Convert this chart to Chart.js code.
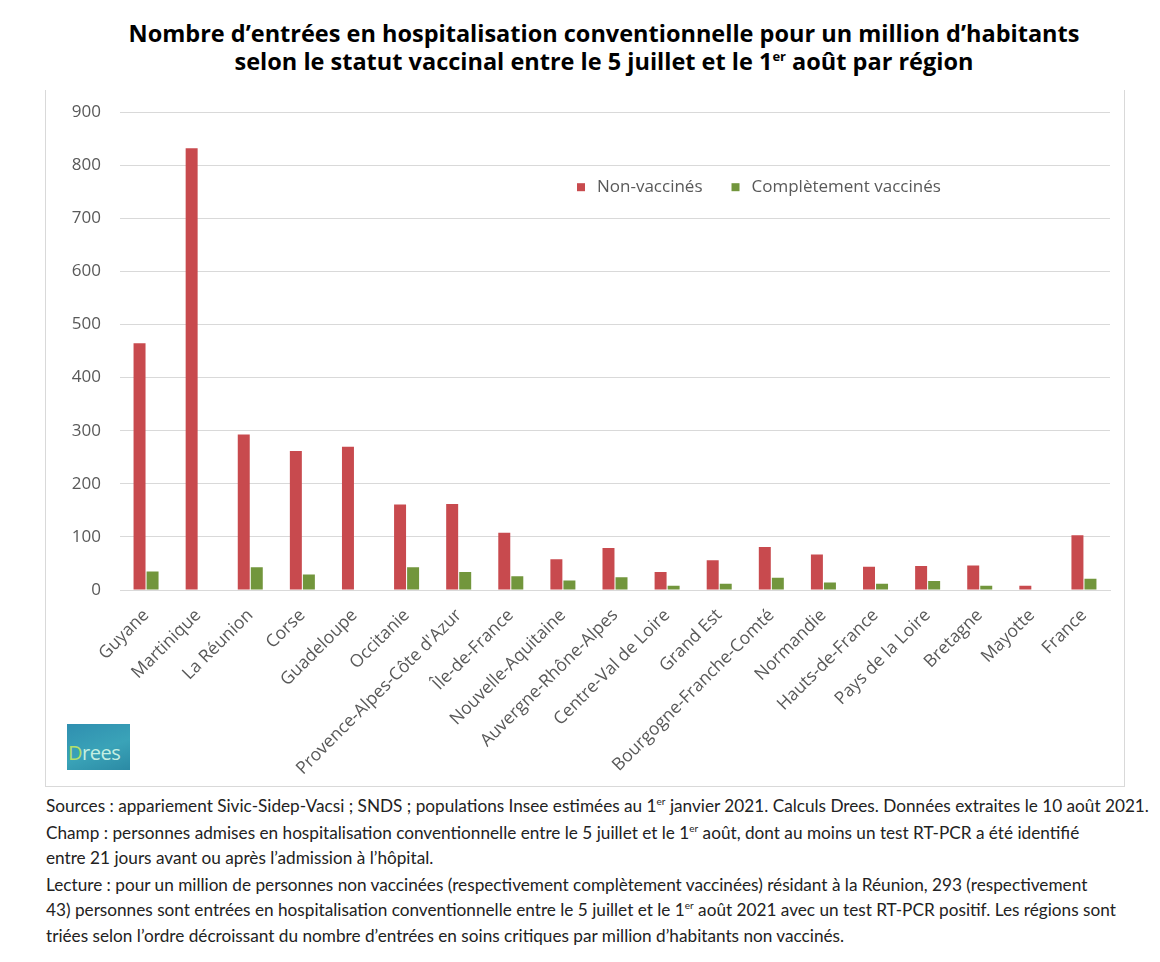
<!DOCTYPE html>
<html>
<head>
<meta charset="utf-8">
<script src="https://cdn.jsdelivr.net/npm/chart.js@4"></script>
<style>
  html, body { margin: 0; padding: 0; background: #fff; }
  body { width: 1160px; height: 962px; position: relative; overflow: hidden; }
  #title {
    position: absolute; left: 0; top: 19px; width: 1208px;
    text-align: center; font-family: "Open Sans", sans-serif; font-weight: bold;
    font-size: 23.5px; line-height: 28px; color: #000; white-space: nowrap;
  }
  #title sup { font-size: 13px; vertical-align: 9px; line-height: 0; }
  #box {
    position: absolute; left: 45px; top: 90px; width: 1080px; height: 697px;
    border: 1px solid #d9d9d9; border-top: none; box-sizing: border-box;
  }
  #chart { position: absolute; left: 0; top: -7px; }
  #logo {
    position: absolute; left: 67px; top: 724px; width: 63px; height: 46px;
    background: linear-gradient(160deg, #2f8fb0 0%, #3aa3b8 55%, #2b8aa4 100%);
    font-family: "Open Sans", sans-serif; font-size: 20px; color: #c5efe2;
    box-sizing: border-box; padding: 17px 0 0 1px; line-height: 24px; letter-spacing: -0.5px;
  }
  #logo b { color: #b5e06a; font-weight: normal; }
  #notes {
    position: absolute; left: 46px; top: 793px; width: 1140px; white-space: nowrap;
    font-family: Lato, sans-serif; font-size: 17.2px; color: #222; line-height: 25.6px;
  }
  #notes p { margin: 0 0 1px 0; }
  #notes sup { font-size: 10px; vertical-align: 7px; line-height: 0; }
</style>
</head>
<body>
<div id="title">Nombre d’entrées en hospitalisation conventionnelle pour un million d’habitants<br>selon le statut vaccinal entre le 5 juillet et le 1<sup>er</sup> août par région</div>
<div id="box"><canvas id="chart" width="1078" height="703"></canvas></div>
<div id="logo"><b>D</b>rees</div>
<div id="notes">
  <p>Sources : appariement Sivic-Sidep-Vacsi ; SNDS ; populations Insee estimées au 1<sup>er</sup> janvier 2021. Calculs Drees. Données extraites le 10 août 2021.</p>
  <p>Champ : personnes admises en hospitalisation conventionnelle entre le 5 juillet et le 1<sup>er</sup> août, dont au moins un test RT-PCR a été identifié<br>entre 21 jours avant ou après l’admission à l’hôpital.</p>
  <p>Lecture : pour un million de personnes non vaccinées (respectivement complètement vaccinées) résidant à la Réunion, 293 (respectivement<br>43) personnes sont entrées en hospitalisation conventionnelle entre le 5 juillet et le 1<sup>er</sup> août 2021 avec un test RT-PCR positif. Les régions sont<br>triées selon l’ordre décroissant du nombre d’entrées en soins critiques par million d’habitants non vaccinés.</p>
</div>
<script>
// Data
const regions = ['Guyane', 'Martinique', 'La Réunion', 'Corse', 'Guadeloupe', 'Occitanie',
  "Provence-Alpes-Côte d'Azur", 'Île-de-France', 'Nouvelle-Aquitaine', 'Auvergne-Rhône-Alpes',
  'Centre-Val de Loire', 'Grand Est', 'Bourgogne-Franche-Comté', 'Normandie', 'Hauts-de-France',
  'Pays de la Loire', 'Bretagne', 'Mayotte', 'France'];
const nonVaccines = [465, 832, 293, 262, 270, 161, 162, 108, 58, 79, 34, 56, 81, 67, 44, 45, 46, 8, 103];
const vaccines = [35, 0, 43, 29, 0, 43, 34, 26, 18, 24, 8, 12, 23, 14, 12, 17, 8, 0, 21];
const yTicks = [0, 100, 200, 300, 400, 500, 600, 700, 800, 900];

const seriesNames = ['Non-vaccinés', 'Complètement vaccinés'];
const seriesColors = ['#c84a4e', '#72963c'];

// Legend drawn inside the plot, like the original
const innerLegend = {
  id: 'innerLegend',
  afterDraw(chart) {
    const { ctx, chartArea } = chart;
    ctx.save();
    ctx.font = '17px "Open Sans", sans-serif';
    ctx.textBaseline = 'middle';
    let x = chartArea.left + 457;
    const y = chartArea.top + 75;
    seriesNames.forEach((name, i) => {
      ctx.fillStyle = seriesColors[i];
      ctx.fillRect(x, y - 4, 8, 8);
      ctx.fillStyle = '#595959';
      ctx.fillText(name, x + 20, y);
      x += 20 + ctx.measureText(name).width + 29;
    });
    ctx.restore();
  }
};

new Chart(document.getElementById('chart'), {
  type: 'bar',
  data: {
    labels: regions,
    datasets: [
      { label: seriesNames[0], data: nonVaccines, backgroundColor: seriesColors[0] },
      { label: seriesNames[1], data: vaccines, backgroundColor: seriesColors[1] }
    ]
  },
  options: {
    responsive: false,
    animation: false,
    layout: { padding: { top: 7, right: 14, left: 0, bottom: 0 } },
    datasets: { bar: { categoryPercentage: 0.5, barPercentage: 0.92 } },
    plugins: { legend: { display: false }, tooltip: { enabled: false } },
    scales: {
      x: {
        grid: { display: false },
        border: { color: '#d9d9d9' },
        ticks: {
          color: '#595959', font: { family: '"Open Sans", sans-serif', size: 17.5 },
          minRotation: 45, maxRotation: 45, padding: 7, autoSkip: false
        },
        afterFit: s => { s.height = 196; }
      },
      y: {
        min: 0, max: 900,
        afterBuildTicks: s => { s.ticks = yTicks.map(v => ({ value: v })); },
        grid: { color: '#d9d9d9', drawTicks: false },
        border: { display: false },
        ticks: { color: '#595959', font: { family: '"Open Sans", sans-serif', size: 17 }, padding: 19 },
        afterFit: s => { s.width = 74; }
      }
    }
  },
  plugins: [innerLegend]
});
</script>
</body>
</html>
